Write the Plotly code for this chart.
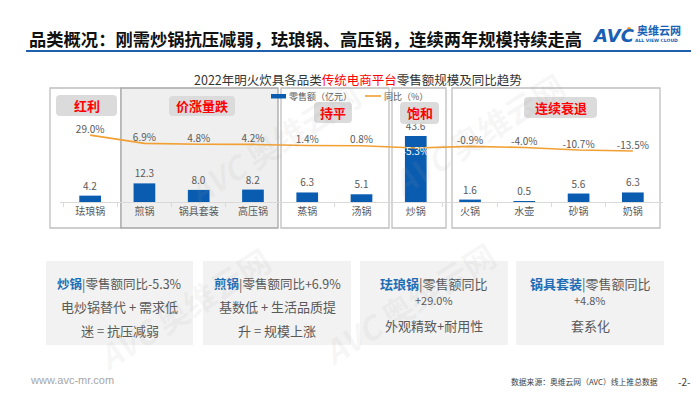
import plotly.graph_objects as go

# ---------------- data ----------------
categories = ["珐琅锅", "煎锅", "锅具套装", "高压锅", "蒸锅", "汤锅", "炒锅", "火锅", "水壶", "砂锅", "奶锅"]
sales = [4.2, 12.3, 8.0, 8.2, 6.3, 5.1, 43.6, 1.6, 0.5, 5.6, 6.3]          # 零售额（亿元）
yoy = [29.0, 6.9, 4.8, 4.2, 1.4, 0.8, -5.3, -0.9, -4.0, -10.7, -13.5]      # 同比（%）
sales_labels = [f"{v:.1f}" for v in sales]
yoy_labels = [f"{v:.1f}%" for v in yoy]
group_tags = ["红利", "价涨量跌", "持平", "饱和", "连续衰退"]

W, H = 700, 394
FONT = "Noto Sans CJK SC"
BLUE = "#0A5CB0"
ORANGE = "#F2A033"
GRAY = "#595959"


def px(x):
    return x / W


def py(y):
    return 1 - y / H


fig = go.Figure()

fig.add_trace(go.Bar(
    x=categories, y=sales, marker=dict(color=BLUE, line=dict(width=0)),
    text=sales_labels, textposition="outside", cliponaxis=False,
    textfont=dict(family=FONT, size=10, color=GRAY), showlegend=False,
    hoverinfo="x+y",
))

yoy_pos = ["bottom center" if c == "炒锅" else "top center" for c in categories]
yoy_col = ["white" if c == "炒锅" else GRAY for c in categories]
fig.add_trace(go.Scatter(
    x=categories, y=yoy, yaxis="y2", mode="lines+text",
    line=dict(color=ORANGE, width=1.6), text=yoy_labels,
    textposition=yoy_pos, textfont=dict(family=FONT, size=10, color=yoy_col),
    cliponaxis=False, showlegend=False,
))

shapes = []
annotations = []

# group frames
frames = [(42, 113, "white", "#BFBFBF"), (113, 270, "#EFEFEF", "#A6A6A6"),
          (273, 381, "white", "#BFBFBF"), (384, 438, "white", "#BFBFBF"),
          (444, 652, "white", "#BFBFBF")]
for x0, x1, fill, line in frames:
    shapes.append(dict(type="rect", xref="paper", yref="paper", x0=px(x0), x1=px(x1),
                       y0=py(220), y1=py(80), fillcolor=fill,
                       line=dict(color=line, width=1.3), layer="below"))


def rounded(x0, y0, x1, y1, r=4):
    X0, X1 = px(x0), px(x1)
    Y0, Y1 = py(y1), py(y0)  # bottom, top in paper
    rx, ry = r / W, r / H
    return (f"M {X0+rx},{Y0} L {X1-rx},{Y0} Q {X1},{Y0} {X1},{Y0+ry} "
            f"L {X1},{Y1-ry} Q {X1},{Y1} {X1-rx},{Y1} L {X0+rx},{Y1} "
            f"Q {X0},{Y1} {X0},{Y1-ry} L {X0},{Y0+ry} Q {X0},{Y0} {X0+rx},{Y0} Z")


tag_boxes = [(48, 87, 109, 108), (161, 88, 227, 108), (306, 94, 344, 115),
             (392, 94, 431, 116), (516, 89, 589, 110)]
for tag, (x0, y0, x1, y1) in zip(group_tags, tag_boxes):
    shapes.append(dict(type="path", xref="paper", yref="paper", path=rounded(x0, y0, x1, y1),
                       fillcolor="#D9D9D9", line=dict(width=0), layer="above", opacity=0.95))
    annotations.append(dict(xref="paper", yref="paper", x=px((x0 + x1) / 2), y=py((y0 + y1) / 2),
                            text=f"<b>{tag}</b>", showarrow=False, xanchor="center", yanchor="middle",
                            font=dict(family=FONT, size=13, color="#FF0000")))

# legend (manual)
shapes.append(dict(type="rect", xref="paper", yref="paper", x0=px(263), x1=px(278),
                   y0=py(90.5), y1=py(86), fillcolor=BLUE, line=dict(width=0)))
annotations.append(dict(xref="paper", yref="paper", x=px(279), y=py(88), text="零售额（亿元）",
                        showarrow=False, xanchor="left", yanchor="middle",
                        font=dict(family=FONT, size=9, color=GRAY)))
shapes.append(dict(type="line", xref="paper", yref="paper", x0=px(357), x1=px(373),
                   y0=py(88), y1=py(88), line=dict(color=ORANGE, width=1.6)))
annotations.append(dict(xref="paper", yref="paper", x=px(374), y=py(88), text="同比（%）",
                        showarrow=False, xanchor="left", yanchor="middle",
                        font=dict(family=FONT, size=9, color=GRAY)))

# header
annotations.append(dict(xref="paper", yref="paper", x=px(19), y=py(31),
                        text="<b>品类概况：刚需炒锅抗压减弱，珐琅锅、高压锅，连续两年规模持续走高</b>",
                        showarrow=False, xanchor="left", yanchor="middle",
                        font=dict(family=FONT, size=17.3, color="#111111")))
shapes.append(dict(type="line", xref="paper", yref="paper", x0=px(18), x1=px(683),
                   y0=py(43), y1=py(43), line=dict(color="#1F5FAD", width=2)))
annotations.append(dict(xref="paper", yref="paper", x=px(582), y=py(27),
                        text="<b><i>AVC</i></b>", showarrow=False, xanchor="left", yanchor="middle",
                        font=dict(family="DejaVu Sans", size=18, color="#1A5FB4")))
shapes.append(dict(type="circle", xref="paper", yref="paper", x0=px(619), x1=px(623),
                   y0=py(23), y1=py(19), fillcolor="#F29B1F", line=dict(width=0)))
annotations.append(dict(xref="paper", yref="paper", x=px(627), y=py(22),
                        text="<b>奥维云网</b>", showarrow=False, xanchor="left", yanchor="middle",
                        font=dict(family=FONT, size=11, color="#1A5FB4")))
annotations.append(dict(xref="paper", yref="paper", x=px(648), y=py(32),
                        text="<b>ALL VIEW CLOUD</b>", showarrow=False, xanchor="center", yanchor="middle",
                        font=dict(family="DejaVu Sans", size=4.5, color="#1A5FB4")))

annotations.append(dict(xref="paper", yref="paper", x=px(350), y=py(71),
                        text="2022年明火炊具各品类<span style='color:#FF0000'>传统电商平台</span>零售额规模及同比趋势",
                        showarrow=False, xanchor="center", yanchor="middle",
                        font=dict(family=FONT, size=12.5, color="#333333")))

# cards
cards = [(38, 185), (195, 343), (352, 500), (508, 656)]
for x0, x1 in cards:
    shapes.append(dict(type="rect", xref="paper", yref="paper", x0=px(x0), x1=px(x1),
                       y0=py(337), y1=py(253), fillcolor="#F2F2F2", line=dict(width=0), layer="below"))

NAME = "#1F6DB5"
card_lines = [
    (0, 275, f"<b><span style='color:{NAME}'>炒锅</span></b>|零售额同比-5.3%", 12.5),
    (0, 298, "电炒锅替代 + 需求低", 13),
    (0, 322, "迷 = 抗压减弱", 13),
    (1, 275, f"<b><span style='color:{NAME}'>煎锅</span></b>|零售额同比+6.9%", 12.5),
    (1, 298, "基数低 + 生活品质提", 13),
    (1, 322, "升 = 规模上涨", 13),
    (2, 275, f"<b><span style='color:{NAME}'>珐琅锅</span></b>|零售额同比", 13),
    (2, 292, "+29.0%", 11),
    (2, 317, "外观精致+耐用性", 13),
    (3, 275, f"<b><span style='color:{NAME}'>锅具套装</span></b>|零售额同比", 13),
    (3, 292, "+4.8%", 11),
    (3, 317, "套系化", 13),
]
for ci, yy, txt, fs in card_lines:
    x0, x1 = cards[ci]
    annotations.append(dict(xref="paper", yref="paper", x=px((x0 + x1) / 2), y=py(yy), text=txt,
                            showarrow=False, xanchor="center", yanchor="middle",
                            font=dict(family=FONT, size=fs, color=GRAY)))

# footer
annotations.append(dict(xref="paper", yref="paper", x=px(20), y=py(372), text="www.avc-mr.com",
                        showarrow=False, xanchor="left", yanchor="middle",
                        font=dict(family="Liberation Sans", size=11, color="#A6A6A6")))
annotations.append(dict(xref="paper", yref="paper", x=px(652), y=py(373),
                        text="数据来源：奥维云网（AVC）线上推总数据",
                        showarrow=False, xanchor="right", yanchor="middle",
                        font=dict(family=FONT, size=7.8, color="#404040")))
annotations.append(dict(xref="paper", yref="paper", x=px(676), y=py(373), text="-2-",
                        showarrow=False, xanchor="center", yanchor="middle",
                        font=dict(family=FONT, size=10, color="#404040")))

# faint watermarks
for cx, cy in [(265, 135), (470, 125), (175, 300), (400, 295)]:
    annotations.append(dict(xref="paper", yref="paper", x=px(cx), y=py(cy),
                            text="<b><i>AVC</i></b> <b>奥维云网</b>", showarrow=False,
                            textangle=-32, xanchor="center", yanchor="middle",
                            font=dict(family=FONT, size=32, color="rgba(160,160,160,0.09)")))

fig.update_layout(
    width=W, height=H, margin=dict(l=0, r=0, t=0, b=0),
    paper_bgcolor="white", plot_bgcolor="rgba(0,0,0,0)",
    bargap=0.6, showlegend=False,
    xaxis=dict(domain=[px(52), px(655)], showgrid=False, showline=True, linecolor="#D9D9D9",
               linewidth=1, ticks="outside", tickson="boundaries", ticklen=4, tickcolor="#D9D9D9",
               tickfont=dict(family=FONT, size=10, color=GRAY), fixedrange=True),
    yaxis=dict(domain=[py(194), py(85)], range=[0, 72], visible=False, fixedrange=True),
    yaxis2=dict(overlaying="y", range=[-149, 141], visible=False, fixedrange=True),
    shapes=shapes, annotations=annotations,
    font=dict(family=FONT),
)

fig.write_html("out.html")
